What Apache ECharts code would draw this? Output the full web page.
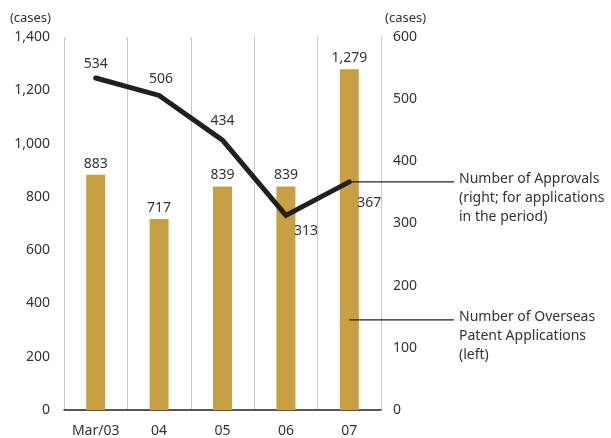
<!DOCTYPE html>
<html>
<head>
<meta charset="utf-8">
<script src="https://cdn.jsdelivr.net/npm/echarts@6/dist/echarts.min.js"></script>
<style>
  html, body { margin: 0; padding: 0; background: #fff; }
  #chart { width: 611px; height: 438px; }
</style>
</head>
<body>
<div id="chart"></div>
<script>
// Fiscal years (March year-end)
const categories = ['Mar/03', '04', '05', '06', '07'];
// Number of overseas patent applications (left axis)
const applications = [883, 717, 839, 839, 1279];
// Number of approvals for applications in the period (right axis)
const approvals = [534, 506, 434, 313, 367];
// Axis settings
const leftTicks = { min: 0, max: 1400, interval: 200 };
const rightTicks = { min: 0, max: 600, interval: 100 };
const approvalsNote = ['Number of Approvals', '(right; for applications', 'in the period)'];
const applicationsNote = ['Number of Overseas', 'Patent Applications', '(left)'];
const applicationsNoteAt = 145; // right-axis level of the applications callout

const FONT = 'Noto Sans';
const TXT = '#333333';
const fmt = v => v.toLocaleString('en-US');

const chart = echarts.init(document.getElementById('chart'));

// label placement for the approvals line
const lineLabelPos = ['top', 'top', 'top', 'bottom', 'bottom'];
const lineLabelOffset = [[0, 0], [2, -2], [0, -5], [20, 1], [20, 7]];

chart.setOption({
  animation: false,
  textStyle: { fontFamily: FONT },
  grid: { left: 64, right: 230, top: 37, bottom: 28 },
  xAxis: {
    type: 'category',
    data: categories,
    boundaryGap: true,
    axisLine: { lineStyle: { color: '#231f20', width: 1.5 } },
    axisTick: { show: false },
    axisLabel: { color: TXT, fontSize: 14, margin: 14, fontFamily: FONT },
    splitLine: { show: true, lineStyle: { color: '#c8c8c8', width: 1 } }
  },
  yAxis: [
    {
      type: 'value',
      position: 'left',
      min: leftTicks.min, max: leftTicks.max, interval: leftTicks.interval,
      name: '(cases)',
      nameLocation: 'end',
      nameGap: 12,
      nameTextStyle: { color: TXT, fontSize: 13, align: 'right', padding: [0, 13, 0, 0], fontFamily: FONT },
      axisLine: { show: false },
      axisTick: { show: false },
      splitLine: { show: false },
      axisLabel: { color: TXT, fontSize: 14, margin: 14, formatter: fmt, fontFamily: FONT }
    },
    {
      type: 'value',
      position: 'right',
      min: rightTicks.min, max: rightTicks.max, interval: rightTicks.interval,
      name: '(cases)',
      nameLocation: 'end',
      nameGap: 12,
      nameTextStyle: { color: TXT, fontSize: 13, align: 'left', padding: [0, 0, 0, 4], fontFamily: FONT },
      axisLine: { show: false },
      axisTick: { show: false },
      splitLine: { show: false },
      axisLabel: { color: TXT, fontSize: 14, margin: 12, formatter: fmt, fontFamily: FONT }
    }
  ],
  series: [
    {
      type: 'bar',
      yAxisIndex: 0,
      data: applications,
      barWidth: 19,
      itemStyle: { color: '#c6a043' },
      label: {
        show: true, position: 'top', distance: 4,
        color: TXT, fontSize: 14, fontFamily: FONT,
        formatter: p => fmt(p.value)
      },
      z: 2
    },
    {
      type: 'line',
      yAxisIndex: 1,
      data: approvals.map((v, i) => ({
        value: v,
        label: { show: true, position: lineLabelPos[i], offset: lineLabelOffset[i] }
      })),
      symbol: 'circle',
      symbolSize: 1,
      showSymbol: true,
      itemStyle: { color: '#231f20' },
      lineStyle: { color: '#231f20', width: 5, cap: 'round', join: 'miter' },
      label: {
        show: true, distance: 7,
        color: TXT, fontSize: 14, fontFamily: FONT,
        formatter: p => fmt(p.value)
      },
      z: 3
    }
  ]
});

// Callouts linking the last category to its description on the right
const last = categories.length - 1;
const pA = chart.convertToPixel({ xAxisIndex: 0, yAxisIndex: 1 }, [last, approvals[last]]);
const pB = chart.convertToPixel({ xAxisIndex: 0, yAxisIndex: 1 }, [last, applicationsNoteAt]);
const lineEnd = 454;
const textX = 459;
const lh = 19;

function note(lines, y) {
  return lines.map((t, i) => ({
    type: 'text',
    left: textX,
    top: y - 10 + i * lh,
    style: { text: t, fill: TXT, font: '14px "' + FONT + '"' }
  }));
}

chart.setOption({
  graphic: [
    { type: 'line', shape: { x1: pA[0], y1: pA[1], x2: lineEnd, y2: pA[1] }, style: { stroke: '#231f20', lineWidth: 1.2 }, z: 10 },
    { type: 'line', shape: { x1: pB[0], y1: pB[1], x2: lineEnd, y2: pB[1] }, style: { stroke: '#231f20', lineWidth: 1.2 }, z: 10 },
    ...note(approvalsNote, pA[1]),
    ...note(applicationsNote, pB[1])
  ]
});
</script>
</body>
</html>
